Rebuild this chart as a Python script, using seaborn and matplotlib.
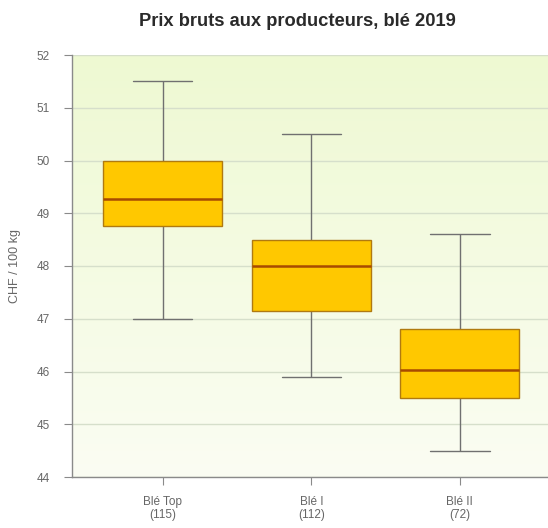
import numpy as np
import pandas as pd
import seaborn as sns
import matplotlib.pyplot as plt
from matplotlib.colors import LinearSegmentedColormap

# five-number summaries (min, Q1, median, Q3, max)
categories = ['Blé Top\n(115)', 'Blé I\n(112)', 'Blé II\n(72)']
ble_top = [47.0, 48.75, 49.27, 50.0, 51.5]
ble_1 = [45.9, 47.15, 48.0, 48.5, 50.5]
ble_2 = [44.5, 45.5, 46.02, 46.8, 48.6]
y_ticks = [44, 45, 46, 47, 48, 49, 50, 51, 52]

rows = []
for cat, vals in zip(categories, [ble_top, ble_1, ble_2]):
    for v in vals:
        rows.append({'cat': cat, 'price': v})
df = pd.DataFrame(rows)

sns.set_style('white')
plt.rcParams['font.family'] = ['Liberation Sans', 'DejaVu Sans']

fig = plt.figure(figsize=(5.48, 5.28), dpi=100)
ax = fig.add_axes([72 / 548, 51 / 528, 480 / 548, 422 / 528])

# soft green gradient background
cmap = LinearSegmentedColormap.from_list('bg', ['#fbfdf3', '#eef9d2'])
grad = np.linspace(0, 1, 256).reshape(-1, 1)
ax.imshow(grad, cmap=cmap, aspect='auto', origin='lower',
          extent=[-0.61, 2.62, 44, 52], zorder=0)

for y in y_ticks:
    ax.axhline(y, color='#d6dfcb', lw=1.0, zorder=1)

sns.boxplot(data=df, x='cat', y='price', order=categories, ax=ax,
            whis=(0, 100), width=0.8, color='#ffc800', saturation=1,
            linewidth=1.0,
            boxprops=dict(facecolor='#ffc800', edgecolor='#b07a10', zorder=3),
            medianprops=dict(color='#a84a00', linewidth=1.8, zorder=4),
            whiskerprops=dict(color='#707070', linewidth=1.0),
            capprops=dict(color='#707070', linewidth=1.0),
            capwidths=0.4)

ax.set_xlim(-0.61, 2.62)
ax.set_ylim(44, 52)
ax.set_yticks(y_ticks)
ax.set_yticklabels([str(y) for y in y_ticks])

for side in ['top', 'right']:
    ax.spines[side].set_visible(False)
for side in ['left', 'bottom']:
    ax.spines[side].set_color('#8a8a8a')
    ax.spines[side].set_linewidth(1.0)

ax.tick_params(axis='both', which='both', direction='out', length=6,
               width=0.8, color='#8a8a8a', labelsize=8.5,
               labelcolor='#666666', left=True, bottom=True)
ax.tick_params(axis='y', pad=10)
ax.tick_params(axis='x', pad=8)
for lbl in ax.get_xticklabels():
    lbl.set_linespacing(1.05)
ax.set_xlabel('')
ax.set_ylabel('CHF / 100 kg', fontsize=9, color='#666666', labelpad=11)

fig.suptitle('Prix bruts aux producteurs, blé 2019', x=0.542, y=0.975,
             fontsize=13.2, fontweight='bold', color='#2a2a2a')

fig.savefig('out.png', dpi=100)
